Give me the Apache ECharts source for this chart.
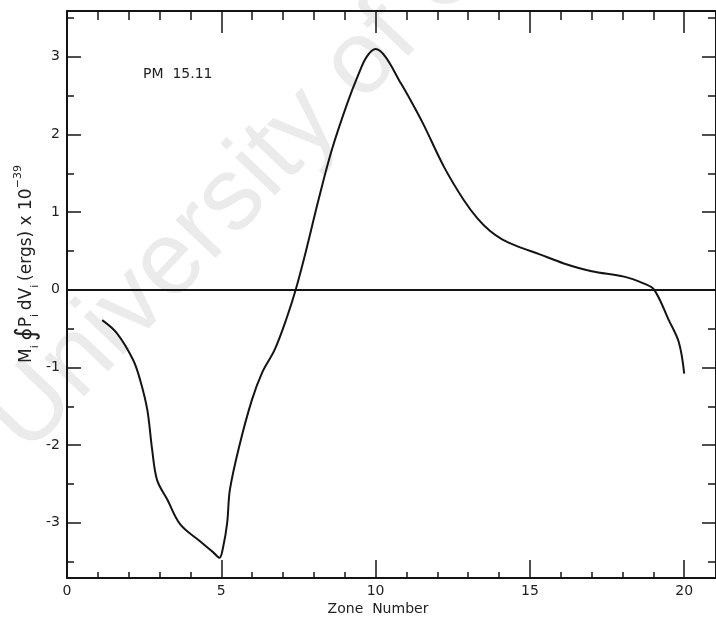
<!DOCTYPE html>
<html>
<head>
<meta charset="utf-8">
<script src="https://cdn.jsdelivr.net/npm/echarts@6/dist/echarts.min.js"></script>
<style>
  html, body { margin: 0; padding: 0; background: #fff; }
  #chart { width: 716px; height: 626px; }
</style>
</head>
<body>
<div id="chart"></div>
<script>
// Work integral per zone, in units of 1e39 ergs
const zoneNumber = [1.14, 1.62, 2.14, 2.37, 2.60, 2.76, 2.92, 3.25, 3.67, 4.32, 4.74, 4.94, 5.06, 5.19, 5.28, 5.59, 5.99, 6.33, 6.73, 7.13, 7.41, 7.75, 8.15, 8.58, 9.09, 9.46, 9.71, 10.0, 10.32, 10.76, 11.12, 11.55, 12.22, 12.85, 13.3, 13.7, 14.1, 14.6, 15.3, 16.1, 17.0, 18.05, 18.7, 19.03, 19.5, 19.83, 20.0];
const workValue = [-0.39, -0.56, -0.90, -1.16, -1.54, -2.06, -2.45, -2.70, -3.02, -3.24, -3.38, -3.45, -3.31, -3.0, -2.57, -2.0, -1.42, -1.06, -0.77, -0.35, 0, 0.51, 1.16, 1.80, 2.41, 2.79, 3.0, 3.10, 3.0, 2.70, 2.45, 2.13, 1.58, 1.16, 0.92, 0.76, 0.65, 0.56, 0.46, 0.34, 0.24, 0.17, 0.08, 0, -0.39, -0.68, -1.08];

const xLabels = [0, 5, 10, 15, 20];
const xMajor = [5, 10, 15, 20];
const xMinor = [1, 2, 3, 4, 6, 7, 8, 9, 11, 12, 13, 14, 16, 17, 18, 19];
const yLabels = [-3, -2, -1, 0, 1, 2, 3];
const yMajor = [-3, -2, -1, 1, 2, 3];
const yMinor = [-3.5, -2.5, -1.5, -0.5, 0.5, 1.5, 2.5, 3.5];

const X_MIN = 0, X_MAX = 21.03;
const Y_MIN = -3.71, Y_MAX = 3.59;
const INK = '#141414';
const FONT = 'DejaVu Sans';

function xAxisDef(pos, ticks, len, withLine, withLabels) {
  return {
    type: 'value', position: pos, min: X_MIN, max: X_MAX,
    axisLine: { show: withLine, onZero: false, lineStyle: { color: INK, width: 2 } },
    axisTick: { show: true, inside: true, length: len, customValues: ticks, lineStyle: { color: INK, width: 1.5 } },
    axisLabel: withLabels
      ? { show: true, customValues: xLabels, margin: 6, color: '#222', fontFamily: FONT, fontSize: 14 }
      : { show: false },
    splitLine: { show: false }
  };
}
function yAxisDef(pos, ticks, len, withLine, withLabels) {
  return {
    type: 'value', position: pos, min: Y_MIN, max: Y_MAX,
    axisLine: { show: withLine, onZero: false, lineStyle: { color: INK, width: 2 } },
    axisTick: { show: true, inside: true, length: len, customValues: ticks, lineStyle: { color: INK, width: 1.5 } },
    axisLabel: withLabels
      ? { show: true, customValues: yLabels, margin: 7, color: '#222', fontFamily: FONT, fontSize: 14,
          formatter: v => (v < 0 ? '-' + Math.abs(v) : String(v)) }
      : { show: false },
    splitLine: { show: false }
  };
}

const chart = echarts.init(document.getElementById('chart'), null, { renderer: 'canvas' });

chart.setOption({
  animation: false,
  backgroundColor: '#fff',
  grid: { left: 67, right: -4, top: 11, bottom: 48, containLabel: false },
  xAxis: [
    xAxisDef('bottom', xMajor, 18, true, true),
    xAxisDef('bottom', xMinor, 6, false, false),
    xAxisDef('top', xMajor, 22, true, false),
    xAxisDef('top', xMinor, 9, false, false)
  ],
  yAxis: [
    yAxisDef('left', yMajor, 14, true, true),
    yAxisDef('left', yMinor, 7, false, false),
    yAxisDef('right', yMajor, 14, true, false),
    yAxisDef('right', yMinor, 8, false, false)
  ],
  graphic: [
    {
      type: 'text', z: -10, silent: true,
      x: 44, y: 472, rotation: 0.81,
      style: {
        text: 'University of Cape Town',
        fontFamily: 'Liberation Sans', fontSize: 104,
        fill: '#ebebeb', align: 'left', verticalAlign: 'bottom'
      }
    },
    {
      type: 'text', silent: true,
      x: 143, y: 74,
      style: {
        text: 'PM  15.11', fontFamily: FONT, fontSize: 14,
        fill: '#222', align: 'left', verticalAlign: 'middle'
      }
    },
    {
      type: 'text', silent: true,
      x: 378, y: 609,
      style: {
        text: 'Zone  Number', fontFamily: FONT, fontSize: 14,
        fill: '#222', align: 'center', verticalAlign: 'middle'
      }
    },
    {
      type: 'text', silent: true,
      x: 27, y: 264, rotation: Math.PI / 2,
      style: {
        text: '{n|M}{s|i} {i|∮}{n|P}{s|i} {n|dV}{s|i} {n|(ergs) x 10}{p|−39}',
        fill: '#222', align: 'center', verticalAlign: 'middle',
        fontFamily: FONT, lineHeight: 28,
        rich: {
          n: { fontFamily: FONT, fontSize: 17, fill: '#222' },
          s: { fontFamily: FONT, fontSize: 11, fill: '#222', verticalAlign: 'bottom' },
          p: { fontFamily: FONT, fontSize: 11, fill: '#222', verticalAlign: 'top' },
          i: { fontFamily: FONT, fontSize: 27, fill: '#222' }
        }
      }
    }
  ],
  series: [
    {
      type: 'line',
      xAxisIndex: 0, yAxisIndex: 0,
      data: zoneNumber.map((z, k) => [z, workValue[k]]),
      smooth: 0.35,
      showSymbol: false,
      clip: false,
      lineStyle: { color: INK, width: 2 },
      markLine: {
        silent: true, symbol: 'none', label: { show: false },
        lineStyle: { color: INK, width: 2, type: 'solid' },
        data: [{ yAxis: 0 }]
      }
    }
  ]
});
</script>
</body>
</html>
